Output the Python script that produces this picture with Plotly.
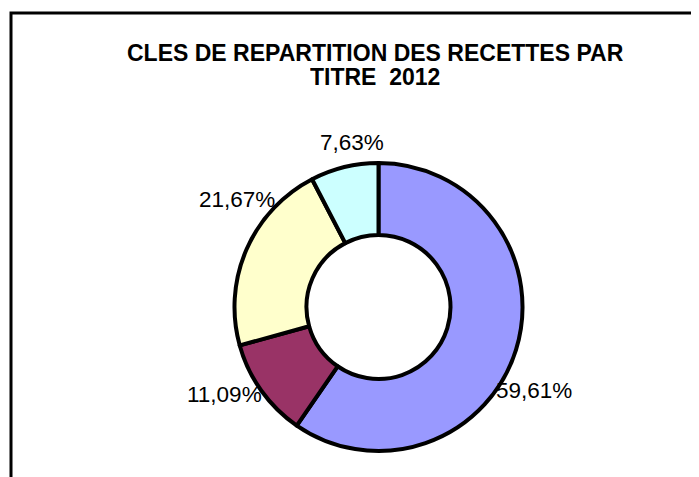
import plotly.graph_objects as go

categories = ["Titre 1", "Titre 2", "Titre 3", "Titre 4"]
values = [59.61, 11.09, 21.67, 7.63]
colors = ["#9999FF", "#993366", "#FFFFCC", "#CCFFFF"]
title_lines = ["CLES DE REPARTITION DES RECETTES PAR", "TITRE\u00a0 2012"]

W, H = 699, 477
OFF = 8  # page body margin offset
cx, cy, R = 378.5 - OFF, 307 - OFF, 144  # pixel center / radius of the doughnut

fig = go.Figure()
fig.add_trace(go.Pie(
    labels=categories, values=values, sort=False, direction="clockwise",
    rotation=0, hole=0.5, textinfo="none", hoverinfo="label+percent",
    marker=dict(colors=colors, line=dict(color="black", width=4)),
    domain=dict(x=[(cx - R) / W, (cx + R) / W], y=[(H - cy - R) / H, (H - cy + R) / H]),
    showlegend=False,
))

# label positions (pixel centers) in the same order as values
label_pos = [(534, 390), (224, 394), (237, 199), (352, 143)]
for v, (lx, ly) in zip(values, label_pos):
    fig.add_annotation(
        x=(lx - OFF) / W, y=1 - (ly - OFF) / H, xref="paper", yref="paper",
        text=f"{v:.2f}".replace(".", ",") + "%", showarrow=False,
        font=dict(family="Arial, Liberation Sans", size=22.5, color="black"),
        xanchor="center", yanchor="middle",
    )

for line, ty in zip(title_lines, [52, 76]):
    fig.add_annotation(
        x=(375 - OFF) / W, y=1 - (ty - OFF) / H, xref="paper", yref="paper",
        text="<b>" + line + "</b>", showarrow=False, height=23,
        font=dict(family="Arial, Liberation Sans", size=23, color="black"),
        xanchor="center", yanchor="middle",
    )

# chart frame
fig.add_shape(type="rect", xref="paper", yref="paper",
              x0=(11 - OFF) / W, x1=1.05, y0=-0.05, y1=1 - (13 - OFF) / H,
              line=dict(color="black", width=3), fillcolor="rgba(0,0,0,0)")

fig.update_layout(
    width=W, height=H, margin=dict(l=0, r=0, t=0, b=0),
    paper_bgcolor="white", plot_bgcolor="white",
)
fig.write_html("out.html")
